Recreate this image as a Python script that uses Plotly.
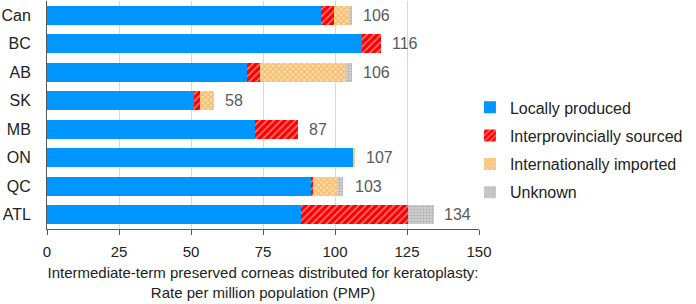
import plotly.graph_objects as go

regions = ["Can", "BC", "AB", "SK", "MB", "ON", "QC", "ATL"]
local = [95.0, 109.5, 69.6, 51.0, 72.3, 106.3, 91.9, 88.2]
interprov = [4.5, 6.5, 4.5, 2.0, 14.7, 0.2, 0.3, 37.1]
international = [5.5, 0.0, 29.7, 5.0, 0.0, 0.5, 8.4, 0.0]
unknown = [1.0, 0.0, 2.2, 0.0, 0.0, 0.0, 2.3, 9.1]
totals = [106, 116, 106, 58, 87, 107, 103, 134]
x_ticks = [0, 25, 50, 75, 100, 125, 150]

FONT = "Liberation Sans, Arial, sans-serif"

fig = go.Figure()
fig.add_trace(go.Bar(y=regions, x=local, name="Locally produced", orientation="h",
                     legendgroup="g1",
                     marker=dict(color="#0096FF", line=dict(width=0))))
fig.add_trace(go.Bar(y=regions, x=interprov, name="Interprovincially sourced", orientation="h",
                     legendgroup="g2",
                     marker=dict(color="#FF0000", line=dict(width=0),
                                 pattern=dict(shape="/", fgcolor="#FFFFFF", bgcolor="#FF0000",
                                              size=5, solidity=0.3, fillmode="overlay"))))
fig.add_trace(go.Bar(y=regions, x=international, name="Internationally imported", orientation="h",
                     legendgroup="g3",
                     marker=dict(color="#FFFFFF", line=dict(width=0),
                                 pattern=dict(shape="x", fgcolor="#F39C25", bgcolor="#FDE3BE",
                                              size=4, solidity=0.7))))
fig.add_trace(go.Bar(y=regions, x=unknown, name="Unknown", orientation="h",
                     legendgroup="g4",
                     marker=dict(color="#FFFFFF", line=dict(width=0),
                                 pattern=dict(shape=".", fgcolor="#8C8C8C", bgcolor="#D9D9D9",
                                              size=3, solidity=0.5))))

for r, t in zip(regions, totals):
    fig.add_annotation(x=t, y=r, text=str(t), showarrow=False, xanchor="left",
                       xshift=9, font=dict(size=16, color="#595959", family=FONT))

fig.update_layout(
    barmode="stack",
    bargap=0.34,
    width=696, height=304,
    margin=dict(l=47, r=217, t=1, b=75, autoexpand=False),
    plot_bgcolor="white", paper_bgcolor="white",
    font=dict(family=FONT, color="#222222"),
    legend=dict(x=0.979, y=0.347, xanchor="left", yanchor="middle",
                font=dict(size=16, color="#222222", family=FONT),
                tracegroupgap=4.5, traceorder="grouped"),
    xaxis=dict(range=[0, 150], tickvals=x_ticks, showgrid=True, gridcolor="#D9D9D9",
               showline=True, linecolor="#595959", linewidth=1, ticks="outside",
               tickcolor="#595959", ticklen=5, zeroline=False, automargin=False,
               tickfont=dict(size=15, color="#222222"), ticklabelstandoff=4,
               title=dict(text="Intermediate-term preserved corneas distributed for keratoplasty:<br>Rate per million population (PMP)",
                          font=dict(size=15, color="#222222"), standoff=8)),
    yaxis=dict(autorange="reversed", showline=True, linecolor="#595959", linewidth=1,
               ticks="", automargin=False, ticklabelstandoff=12,
               tickfont=dict(size=16, color="#222222")),
)

fig.write_html("out.html", config={"displayModeBar": False},
               post_script="document.body.style.margin='0';")
